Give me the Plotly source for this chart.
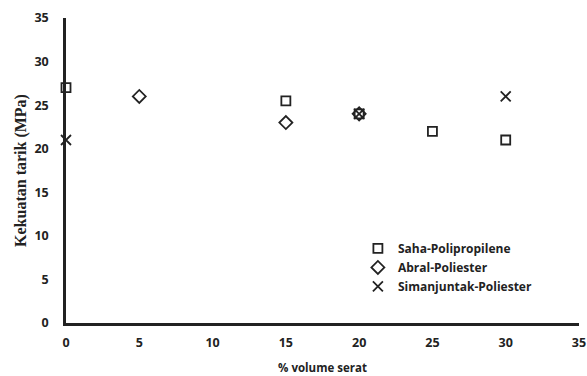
import plotly.graph_objects as go

saha_x = [0, 15, 20, 25, 30]
saha_y = [27, 25.5, 24, 22, 21]
abral_x = [5, 15, 20]
abral_y = [26, 23, 24]
siman_x = [0, 20, 30]
siman_y = [21, 24, 26]
ticks = [0, 5, 10, 15, 20, 25, 30, 35]

fig = go.Figure()
series = [
    ("Saha-Polipropilene", saha_x, saha_y, "square-open", 9),
    ("Abral-Poliester", abral_x, abral_y, "diamond-open", 10),
    ("Simanjuntak-Poliester", siman_x, siman_y, "x-thin-open", 10),
]
for name, xs, ys, sym, sz in series:
    fig.add_trace(go.Scatter(
        x=xs, y=ys, mode="markers", name=name, cliponaxis=False,
        marker=dict(symbol=sym, size=sz, color="#222",
                    line=dict(color="#222", width=1.8)),
    ))

tickfont = dict(family="Open Sans", size=12.5, color="#222", weight="bold")
fig.update_layout(
    width=587, height=376,
    margin=dict(l=66, r=8, t=18, b=53),
    plot_bgcolor="white", paper_bgcolor="white",
    showlegend=True,
    legend=dict(x=0.569, y=0.292, xanchor="left", yanchor="top",
                font=dict(family="Open Sans", size=12, color="#222", weight="bold"),
                itemwidth=30, tracegroupgap=0,
                bgcolor="rgba(0,0,0,0)"),
    xaxis=dict(range=[0, 35], tickvals=ticks, automargin=False,
               showgrid=False, zeroline=False, showline=True, linecolor="#222",
               linewidth=2.5, ticks="", tickfont=tickfont, ticklabelstandoff=6,
               title=dict(text="% volume serat",
                          font=dict(family="Open Sans", size=11.5, color="#222", weight="bold"),
                          standoff=15)),
    yaxis=dict(range=[0, 35], tickvals=ticks, automargin=False,
               showgrid=False, zeroline=False, showline=True, linecolor="#222",
               linewidth=2.5, ticks="", tickfont=tickfont, ticklabelstandoff=12,
               title=dict(text="Kekuatan tarik (MPa)",
                          font=dict(family="Liberation Serif", size=16, color="#222", weight="bold"),
                          standoff=4)),
)
fig.write_html("out.html")
